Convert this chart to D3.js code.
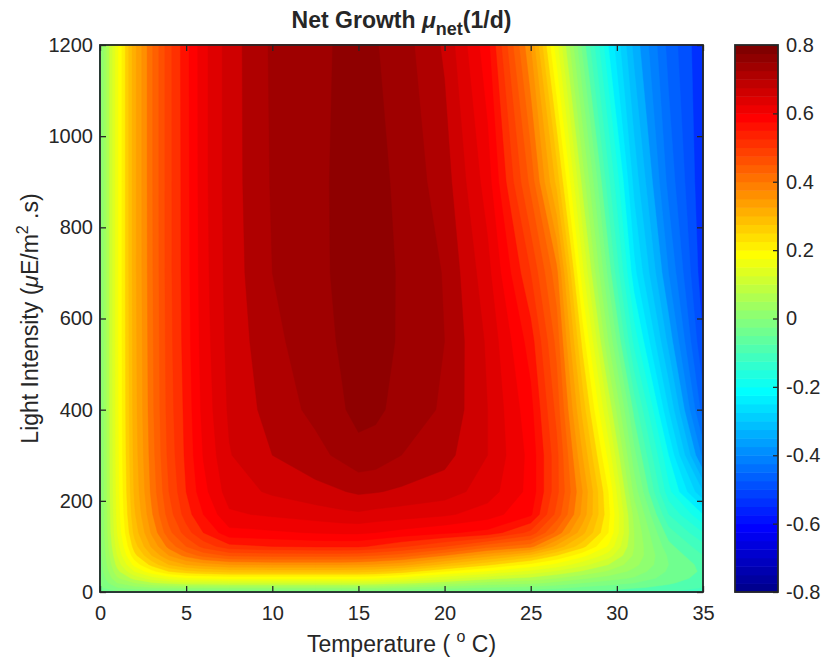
<!DOCTYPE html>
<html>
<head>
<meta charset="utf-8">
<script src="https://cdn.jsdelivr.net/npm/d3@7"></script>
<style>
body { margin: 0; background: #fff; }
text { font-family: "Liberation Sans", Arial, Helvetica, sans-serif; fill: #262626; white-space: pre; }
</style>
</head>
<body>
<div id="chart"></div>
<script>
// temperature grid (deg C) - one column of the field per value
var temps = [0, 1, 2, 3, 4, 5, 6, 7.5, 10, 12.5, 14, 15, 16, 17.5, 20, 22.5, 25, 26.5, 28, 29.5, 31, 33, 35];
// light grid (uE/m2.s)
var light = [0, 10, 20, 30, 45, 60, 80, 100, 130, 170, 220, 300, 400, 550, 700, 900, 1200];

// net growth (1/d), one row per temperature, along light
var netGrowth = [
    [-0.03, -0.025, -0.02, -0.015, -0.01, -0.008, -0.005, -0.003, 0, 0, 0, 0, 0, 0, 0, 0, 0],            // 0
    [-0.025, 0.01, 0.04, 0.065, 0.09, 0.11, 0.13, 0.145, 0.16, 0.168, 0.173, 0.176, 0.178, 0.18, 0.18, 0.18, 0.18], // 1
    [-0.025, 0.03, 0.07, 0.11, 0.16, 0.2, 0.24, 0.265, 0.29, 0.305, 0.315, 0.322, 0.326, 0.328, 0.33, 0.33, 0.33],  // 2
    [-0.025, 0.04, 0.095, 0.145, 0.21, 0.26, 0.31, 0.345, 0.375, 0.395, 0.408, 0.415, 0.42, 0.422, 0.424, 0.425, 0.425], // 3
    [-0.025, 0.045, 0.11, 0.17, 0.25, 0.31, 0.37, 0.41, 0.45, 0.475, 0.49, 0.5, 0.505, 0.508, 0.51, 0.51, 0.51],    // 4
    [-0.025, 0.05, 0.12, 0.185, 0.27, 0.34, 0.41, 0.46, 0.505, 0.535, 0.55, 0.557, 0.56, 0.565, 0.567, 0.568, 0.57], // 5
    [-0.025, 0.05, 0.12, 0.19, 0.28, 0.355, 0.44, 0.5, 0.55, 0.58, 0.6, 0.612, 0.62, 0.625, 0.628, 0.63, 0.63],     // 6
    [-0.025, 0.05, 0.125, 0.195, 0.29, 0.37, 0.465, 0.54, 0.6, 0.635, 0.655, 0.668, 0.675, 0.68, 0.683, 0.685, 0.685], // 7.5
    [-0.025, 0.05, 0.125, 0.195, 0.29, 0.375, 0.47, 0.55, 0.605, 0.645, 0.675, 0.7, 0.713, 0.722, 0.73, 0.733, 0.735], // 10
    [-0.025, 0.05, 0.125, 0.195, 0.29, 0.375, 0.47, 0.555, 0.612, 0.655, 0.69, 0.72, 0.738, 0.748, 0.752, 0.753, 0.752], // 12.5
    [-0.025, 0.05, 0.125, 0.195, 0.29, 0.375, 0.47, 0.555, 0.615, 0.662, 0.698, 0.737, 0.757, 0.763, 0.766, 0.766, 0.764], // 14
    [-0.025, 0.05, 0.125, 0.195, 0.29, 0.372, 0.468, 0.555, 0.615, 0.665, 0.705, 0.752, 0.768, 0.773, 0.775, 0.774, 0.77], // 15
    [-0.025, 0.05, 0.12, 0.19, 0.285, 0.365, 0.46, 0.545, 0.61, 0.66, 0.702, 0.748, 0.766, 0.772, 0.773, 0.77, 0.762],  // 16
    [-0.03, 0.04, 0.11, 0.175, 0.265, 0.35, 0.445, 0.525, 0.6, 0.655, 0.695, 0.73, 0.75, 0.756, 0.756, 0.752, 0.745], // 17.5
    [-0.035, 0.025, 0.085, 0.14, 0.22, 0.3, 0.4, 0.49, 0.585, 0.645, 0.685, 0.71, 0.725, 0.73, 0.728, 0.715, 0.695], // 20
    [-0.04, 0.01, 0.06, 0.11, 0.185, 0.255, 0.35, 0.44, 0.57, 0.625, 0.655, 0.67, 0.67, 0.665, 0.65, 0.625, 0.59],   // 22.5
    [-0.045, 0, 0.05, 0.09, 0.15, 0.21, 0.3, 0.41, 0.51, 0.585, 0.6, 0.6, 0.59, 0.565, 0.52, 0.45, 0.37],           // 25
    [-0.05, -0.01, 0.03, 0.07, 0.125, 0.18, 0.25, 0.33, 0.42, 0.48, 0.5, 0.5, 0.48, 0.45, 0.41, 0.3, 0.17],         // 26.5
    [-0.055, -0.025, 0.01, 0.045, 0.095, 0.14, 0.2, 0.26, 0.32, 0.36, 0.37, 0.34, 0.3, 0.24, 0.17, 0.09, -0.03],    // 28
    [-0.06, -0.035, -0.005, 0.025, 0.065, 0.1, 0.145, 0.185, 0.22, 0.23, 0.22, 0.18, 0.125, 0.04, -0.03, -0.1, -0.2], // 29.5
    [-0.07, -0.045, -0.02, 0.005, 0.03, 0.05, 0.065, 0.07, 0.07, 0.06, 0.03, -0.01, -0.06, -0.15, -0.22, -0.27, -0.33], // 31
    [-0.08, -0.06, -0.045, -0.035, -0.025, -0.02, -0.025, -0.04, -0.065, -0.11, -0.16, -0.2, -0.26, -0.33, -0.38, -0.42, -0.45], // 33
    [-0.1, -0.08, -0.07, -0.06, -0.055, -0.06, -0.08, -0.1, -0.14, -0.2, -0.29, -0.39, -0.455, -0.5, -0.52, -0.525, -0.525]  // 35
];

var xTicks = [0, 5, 10, 15, 20, 25, 30, 35];
var yTicks = [0, 200, 400, 600, 800, 1000, 1200];
var cbTicks = [-0.8, -0.6, -0.4, -0.2, 0, 0.2, 0.4, 0.6, 0.8];
var colorLimits = [-0.8, 0.8];

var svgwidth = 822;
var svgheight = 667;
var margin = {
    top: 45,
    bottom: 75,
    right: 119,
    left: 100
}
var width = svgwidth - margin.left - margin.right;
var height = svgheight - margin.top - margin.bottom;
var ink = "#262626";

// matlab jet(64)
function jet(k) {
    var u = function(j) {
        if (j < 1 || j > 47) return 0;
        if (j <= 16) return j / 16;
        if (j <= 31) return 1;
        return (48 - j) / 16;
    };
    return d3.rgb(255 * u(k - 24), 255 * u(k - 8), 255 * u(k + 8)).formatHex();
}
function colorOf(v) {
    var k = Math.floor((v - colorLimits[0]) / (colorLimits[1] - colorLimits[0]) * 64) + 1;
    return jet(Math.max(1, Math.min(64, k)));
}

var svg = d3.select("#chart").append("svg").attr("width", svgwidth).attr("height", svgheight);
var chartGroup = svg.append("g").attr("transform", `translate(${margin.left}, ${margin.top})`);

var xLinear = d3.scaleLinear().domain([0, 35]).range([0, width]);
var yLinear = d3.scaleLinear().domain([0, 1200]).range([height, 0]);

// contour space -> data space (cell centres sit at i + 0.5)
var colToTemp = d3.scaleLinear().domain(temps.map((d, i) => i + 0.5)).range(temps).clamp(true);
var rowToLight = d3.scaleLinear().domain(light.map((d, i) => i + 0.5)).range(light).clamp(true);

var nx = temps.length, ny = light.length;
var values = [];
for (var j = 0; j < ny; j++) {
    for (var i = 0; i < nx; i++) values.push(netGrowth[i][j]);
}

var levels = d3.range(45, -1, -1).map(k => Math.round((0.76 - 0.03 * k) * 1000) / 1000);
var contours = d3.contours().size([nx, ny]).thresholds(levels)(values);

var project = d3.geoTransform({
    point: function(x, y) {
        this.stream.point(xLinear(colToTemp(x)), yLinear(rowToLight(y)));
    }
});
var path = d3.geoPath(project);

chartGroup.append("g")
    .selectAll("path")
    .data(contours)
    .enter()
    .append("path")
    .attr("d", path)
    .attr("fill", d => colorOf(d.value))
    .attr("stroke", d => colorOf(d.value))
    .attr("stroke-width", 0.4);

// axes, ticks inside like matlab
function styleAxis(g) {
    g.select(".domain").remove();
    g.attr("color", ink).attr("font-size", 20).attr("font-family", "Liberation Sans, Arial, sans-serif");
    g.selectAll(".tick line").attr("stroke-width", 1.3);
}

chartGroup.append("g").attr("transform", `translate(0, ${height})`)
    .call(d3.axisBottom(xLinear).tickValues(xTicks).tickSize(-6).tickPadding(14))
    .call(styleAxis);
chartGroup.append("g")
    .call(d3.axisTop(xLinear).tickValues(xTicks).tickSize(-6).tickFormat(""))
    .call(styleAxis);
chartGroup.append("g")
    .call(d3.axisLeft(yLinear).tickValues(yTicks).tickSize(-6).tickPadding(7).tickFormat(d3.format("d")))
    .call(styleAxis);
chartGroup.append("g").attr("transform", `translate(${width}, 0)`)
    .call(d3.axisRight(yLinear).tickValues(yTicks).tickSize(-6).tickFormat(""))
    .call(styleAxis);

chartGroup.append("rect")
    .attr("width", width).attr("height", height)
    .attr("fill", "none").attr("stroke", ink).attr("stroke-width", 1.8);

// colorbar
var cbX = 635, cbW = 43;
var cbScale = d3.scaleLinear().domain(colorLimits).range([height, 0]);
var cbGroup = chartGroup.append("g").attr("transform", `translate(${cbX}, 0)`);
cbGroup.selectAll("rect.c")
    .data(d3.range(1, 65))
    .enter()
    .append("rect")
    .attr("class", "c")
    .attr("x", 0)
    .attr("width", cbW)
    .attr("y", k => cbScale(colorLimits[0] + k * 0.025))
    .attr("height", k => cbScale(colorLimits[0] + (k - 1) * 0.025) - cbScale(colorLimits[0] + k * 0.025) + 0.5)
    .attr("fill", k => jet(k));
cbGroup.append("g").attr("transform", `translate(${cbW}, 0)`)
    .call(d3.axisRight(cbScale).tickValues(cbTicks).tickSize(-5).tickPadding(8)
        .tickFormat(d => d === 0 ? "0" : d.toFixed(1)))
    .call(styleAxis);
cbGroup.append("rect")
    .attr("width", cbW).attr("height", height)
    .attr("fill", "none").attr("stroke", ink).attr("stroke-width", 1.8);

// title and labels
var title = svg.append("text")
    .attr("x", margin.left + width / 2).attr("y", 28)
    .attr("text-anchor", "middle").attr("font-weight", "bold").attr("font-size", 23);
title.append("tspan").text("Net Growth ");
title.append("tspan").attr("font-style", "italic").text("\u03bc");
title.append("tspan").attr("font-size", 18).attr("dy", 7).text("net");
title.append("tspan").attr("dy", -7).text("(1/d)");

var xLabel = svg.append("text")
    .attr("x", margin.left + width / 2).attr("y", 652)
    .attr("text-anchor", "middle").attr("font-size", 23);
xLabel.append("tspan").text("Temperature ( ");
xLabel.append("tspan").attr("font-size", 16).attr("dy", -10).text("o");
xLabel.append("tspan").attr("dy", 10).text(" C)");

var yLabel = svg.append("text")
    .attr("transform", `translate(38, ${margin.top + height / 2}) rotate(-90)`)
    .attr("text-anchor", "middle").attr("font-size", 23);
yLabel.append("tspan").text("Light Intensity (");
yLabel.append("tspan").attr("font-style", "italic").text("\u03bc");
yLabel.append("tspan").text("E/m");
yLabel.append("tspan").attr("font-size", 16).attr("dy", -10).text("2");
yLabel.append("tspan").attr("dy", 10).text(" .s)");
</script>
</body>
</html>
